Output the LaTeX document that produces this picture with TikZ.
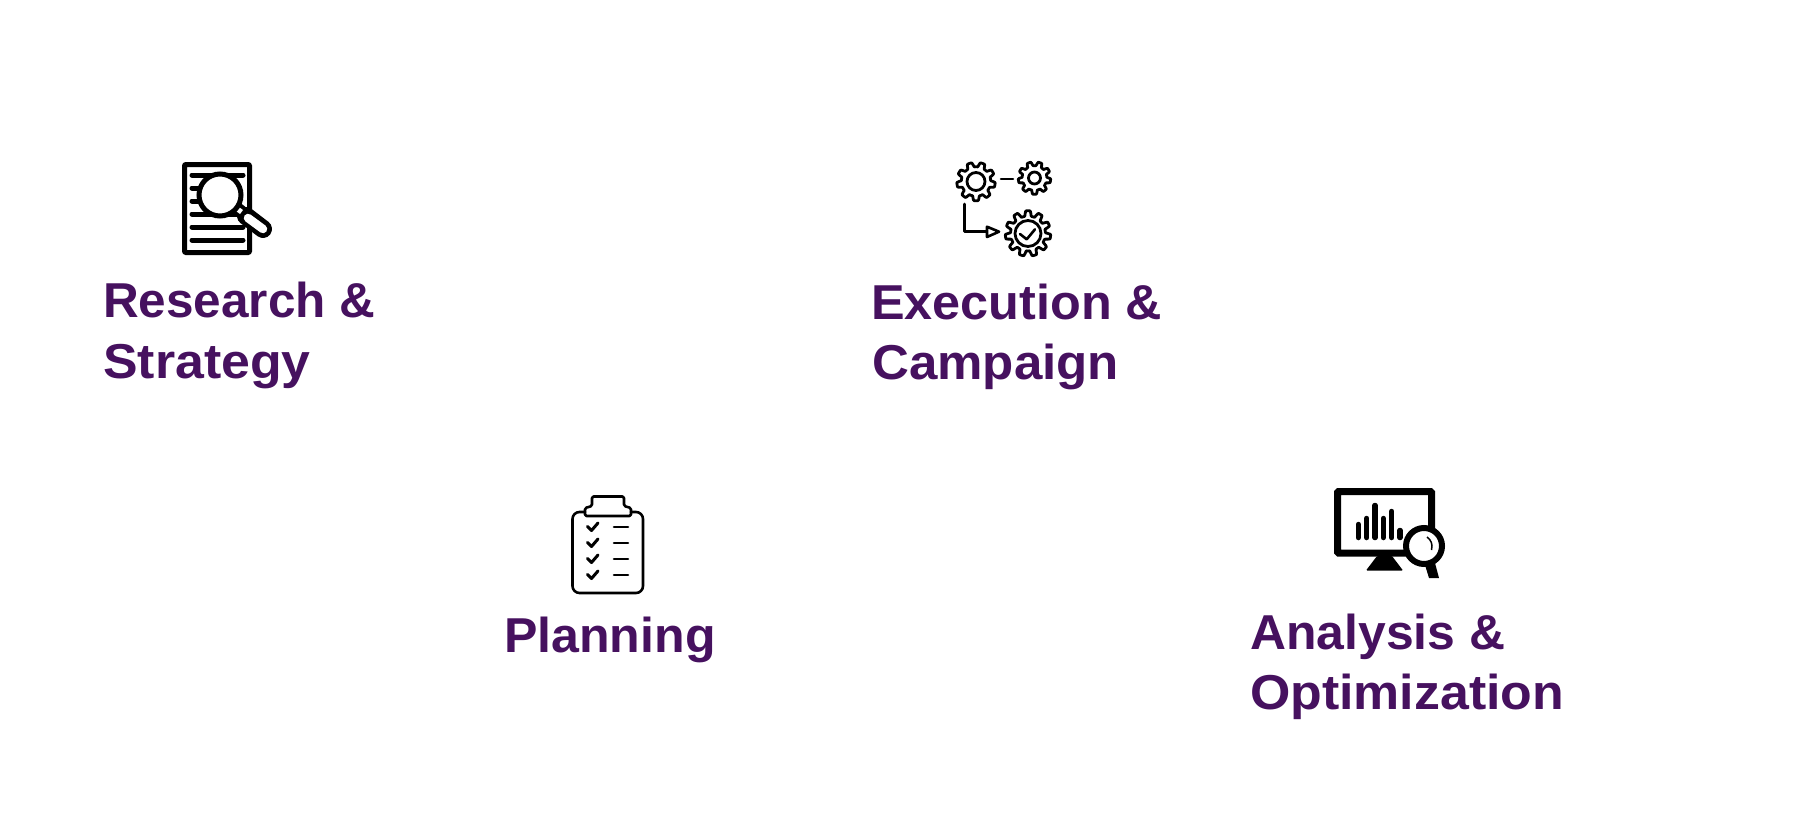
\documentclass[tikz,border=0pt]{standalone}
\usepackage{graphicx}
\usepackage{fontspec}
\setmainfont{Liberation Sans}
\definecolor{labelpurple}{HTML}{46115F}
\tikzset{
  labeltext/.style={anchor=base west,inner sep=0pt,align=left,text=labelpurple,
    font=\fontsize{49}{61}\selectfont\bfseries},
  thickline/.style={line width=5pt,line cap=round,line join=round},
  thinline/.style={line width=2.6pt,line cap=round,line join=round},
  gearline/.style={line width=2.8pt,line join=round},
  chartbar/.style={line width=5.5pt,line cap=round}
}
\newcommand{\wider}[2]{\scalebox{#1}[1]{#2}}
\newcommand{\gearicon}[4]{% centre, outer radius, teeth, ring radius
  \draw[gearline,shift={(#1)}] plot[domain=0:360,samples=181] (\x:{#2-1.3-0.11*#2+0.11*#2*min(1,max(-1,2.2*sin(#3*\x)))}) -- cycle;
  \draw[gearline] (#1) circle (#4);
}
\begin{document}
\begin{tikzpicture}[x=1pt,y=-1pt]
\useasboundingbox (0,0) rectangle (1797,819);

\node[labeltext] (research) at (103,317) {\wider{1.01}{Research \&}};
\node[labeltext] (strategy) at (103,378) {\wider{1.058}{Strategy}};
\node[labeltext] (execution) at (871,319) {\wider{1.028}{Execution \&}};
\node[labeltext] (campaign) at (872,379) {\wider{1.042}{Campaign}};
\node[labeltext] (planning) at (504,652) {\wider{1.022}{Planning}};
\node[labeltext] (analysis) at (1250,649) {\wider{1.018}{Analysis \&}};
\node[labeltext] (optimization) at (1250,709) {\wider{1.058}{Optimization}};

\draw[thickline,rounded corners=1pt] (184.5,164.5) rectangle (249.5,252.5);
\foreach \y/\xb in {175/243,214/243,227/243,240/243,188/200,201/200}
  \draw[thickline] (192,\y) -- (\xb,\y);
\draw[line width=12pt] (232,204) -- (246,215);
\draw[line width=18pt,line cap=round] (246,216) -- (263,229);
\draw[white,line width=8.5pt,line cap=round] (248,218) -- (263,229);
\draw[white,line width=5pt] (237.5,209) -- (241.5,212);
\draw[line width=5pt,fill=white] (220,195) circle (21);

\coordinate (gearA) at (976,181.5);
\coordinate (gearB) at (1034.5,178);
\coordinate (gearC) at (1028,233.5);
\gearicon{gearA}{20.5}{9}{9}
\gearicon{gearB}{17.5}{9}{6}
\gearicon{gearC}{24}{11}{13}
\draw[thinline] (1001,179) -- (1013,179);
\draw[thinline] (964.3,204) |- (987,231.7);
\draw[thinline,fill=white] (987,226.7) -- (999,231.7) -- (987,237) -- cycle;
\draw[thinline] (1020,234) -- (1026.7,239.3) -- (1035,229.3);

\draw[thinline,rounded corners=7pt] (585,512) -- (572.5,512) -- (572.5,593) -- (643,593) -- (643,512) -- (631,512);
\draw[thinline,rounded corners=1.5pt] (585,516) -- (585,508) -- (592,506) -- (592,496.5) -- (624,496.5) -- (624,506) -- (631,508) -- (631,516) -- cycle;
\foreach \y in {527,543,559,575} {
  \draw[line width=3pt,line cap=round,line join=round] (587.5,\y-0.5) -- (591.5,\y+3.5) -- (598,\y-4);
  \draw[thinline] (614,\y) -- (628,\y);
}

\draw[line width=7pt,rounded corners=1pt] (1337.5,491.5) rectangle (1431.5,553);
\fill[rounded corners=1pt] (1377,556) -- (1392,556) -- (1403,570.5) -- (1366,570.5) -- cycle;
\foreach \x/\y in {1358.3/524.5,1366.7/518.5,1375/505.5,1383.3/518.5,1391.7/511.5,1400/530.5}
  \draw[chartbar] (\x,\y) -- (\x,537.5);
\fill (1425,565) -- (1435,563) -- (1439,578) -- (1429,578) -- cycle;
\draw[line width=6pt,fill=white] (1424,546) circle (18);
\draw[line width=1.5pt] (1427,537) .. controls (1431,540) and (1433,544) .. (1431.5,550);
\end{tikzpicture}
\end{document}
